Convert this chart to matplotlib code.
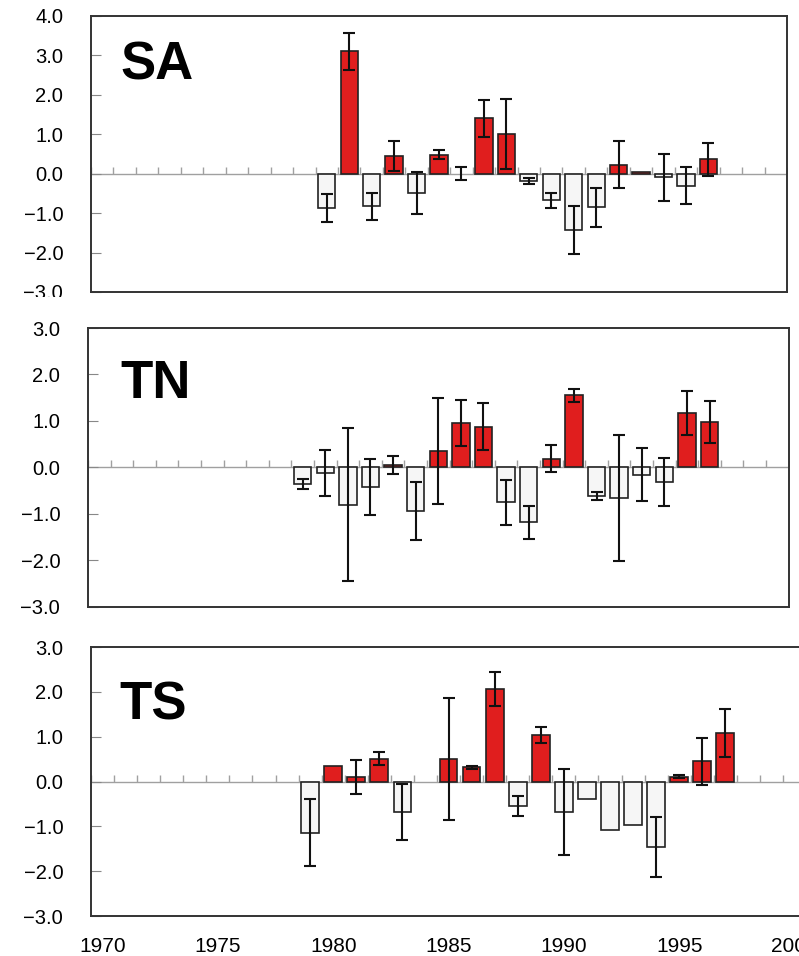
import numpy as np
import matplotlib
matplotlib.use('Agg')
import matplotlib.pyplot as plt
from matplotlib.transforms import Bbox, TransformedBbox

plt.rcParams['font.family'] = ['Liberation Sans', 'DejaVu Sans']

# anomaly series (value, half-width of error bar)
sa_years = np.arange(1980, 1998)
sa_val = [-0.87, 3.10, -0.83, 0.45, -0.49, 0.48, 0.0, 1.40, 1.00, -0.19,
          -0.68, -1.43, -0.85, 0.23, 0.03, -0.09, -0.30, 0.36]
sa_err = [0.35, 0.46, 0.35, 0.38, 0.52, 0.11, 0.16, 0.46, 0.89, 0.08,
          0.20, 0.61, 0.49, 0.60, 0.0, 0.60, 0.47, 0.43]
sa_mid = [-0.87, 3.10, -0.83, 0.45, -0.49, 0.48, 0.01, 1.40, 1.00, -0.19,
          -0.68, -1.43, -0.85, 0.23, 0.03, -0.09, -0.30, 0.36]

tn_years = np.arange(1979, 1998)
tn_val = [-0.35, -0.12, -0.80, -0.42, 0.05, -0.93, 0.35, 0.96, 0.88, -0.75,
          -1.18, 0.19, 1.55, -0.61, -0.66, -0.16, -0.31, 1.17, 0.97]
tn_err = [0.11, 0.50, 1.64, 0.60, 0.19, 0.62, 1.14, 0.50, 0.50, 0.49,
          0.35, 0.29, 0.14, 0.09, 1.35, 0.57, 0.52, 0.47, 0.45]

ts_years = np.arange(1979, 1998)
ts_val = [-1.14, 0.35, 0.11, 0.51, -0.68, np.nan, 0.51, 0.32, 2.06, -0.55,
          1.04, -0.67, -0.38, -1.09, -0.97, -1.45, 0.11, 0.45, 1.08]
ts_err = [0.74, 0.0, 0.38, 0.15, 0.63, np.nan, 1.36, 0.03, 0.38, 0.22,
          0.17, 0.96, 0.0, 0.0, 0.0, 0.67, 0.04, 0.53, 0.54]

xlabels = ['1970', '1975', '1980', '1985', '1990', '1995', '2000']

RED = '#e01e1e'
WHITE = '#f6f6f6'

fig = plt.figure(figsize=(7.99, 9.56), dpi=100)

# [left, bottom, width, height], label position, ylim, band kept for tick labels
panels = [
    dict(rect=[0.1139, 0.6946, 0.8711, 0.2887], name='SA', txy=(0.042, 0.768),
         ylim=(-3, 4), band=(0.689, 1.0),
         years=sa_years, val=sa_val, err=sa_err, mid=sa_mid),
    dict(rect=[0.1101, 0.3651, 0.8769, 0.2918], name='TN', txy=(0.046, 0.749),
         ylim=(-3, 3), band=(0.352, 0.663),
         years=tn_years, val=tn_val, err=tn_err, mid=tn_val),
    dict(rect=[0.1139, 0.0418, 0.8949, 0.2814], name='TS', txy=(0.040, 0.732),
         ylim=(-3, 3), band=(0.0, 0.330),
         years=ts_years, val=ts_val, err=ts_err, mid=ts_val),
]

for k, p in enumerate(panels):
    ax = fig.add_axes(p['rect'])
    yrs = np.asarray(p['years'])
    val = np.asarray(p['val'], dtype=float)
    err = np.asarray(p['err'], dtype=float)
    mid = np.asarray(p['mid'], dtype=float)

    # zero line with small upward ticks between years
    ax.axhline(0, color='#a0a0a0', lw=1.0, zorder=1)
    bounds = np.arange(1969.5, 2001.5, 1.0)
    ax.plot(bounds, np.zeros_like(bounds), ls='', marker=2, ms=5,
            mew=1.0, color='#a0a0a0', zorder=1)

    ok = np.isfinite(val) & (val != 0)
    colors = [RED if v > 0 else WHITE for v in val[ok]]
    ax.bar(yrs[ok], val[ok], width=0.77, color=colors, edgecolor='#222222',
           linewidth=1.2, zorder=2)

    has_err = np.isfinite(err) & (err > 0)
    ax.errorbar(yrs[has_err], mid[has_err], yerr=err[has_err], fmt='none',
                ecolor='#111111', elinewidth=1.5, capsize=4.5, capthick=1.5,
                zorder=3)

    ax.set_xlim(1969.5, 2000.5)
    ax.set_ylim(*p['ylim'])
    ax.set_yticks(np.arange(p['ylim'][0], p['ylim'][1] + 1))
    ax.set_yticklabels(['%.1f' % t if t >= 0 else '\u2212%.1f' % -t
                        for t in ax.get_yticks()])
    ax.tick_params(axis='y', direction='in', length=7, width=0.8,
                   color='#888888', labelsize=14.5, pad=20)
    ax.set_xticks(np.arange(1970, 2001, 5))
    if k == 2:
        ax.set_xticklabels(xlabels)
        ax.tick_params(axis='x', length=0, labelsize=15, pad=15)
    else:
        ax.tick_params(axis='x', length=0, labelbottom=False)
    for s in ax.spines.values():
        s.set_color('#333333')
        s.set_linewidth(1.4)

    ax.text(p['txy'][0], p['txy'][1], p['name'], transform=ax.transAxes,
            fontsize=38, fontweight='bold', va='baseline', ha='left')

    # tick labels cut off at the edges of each strip
    clip = TransformedBbox(Bbox.from_extents(0, p['band'][0], 1, p['band'][1]),
                           fig.transFigure)
    for lbl in ax.get_yticklabels():
        lbl.set_clip_box(clip)
        lbl.set_clip_on(True)

fig.savefig('out.png', dpi=100)
